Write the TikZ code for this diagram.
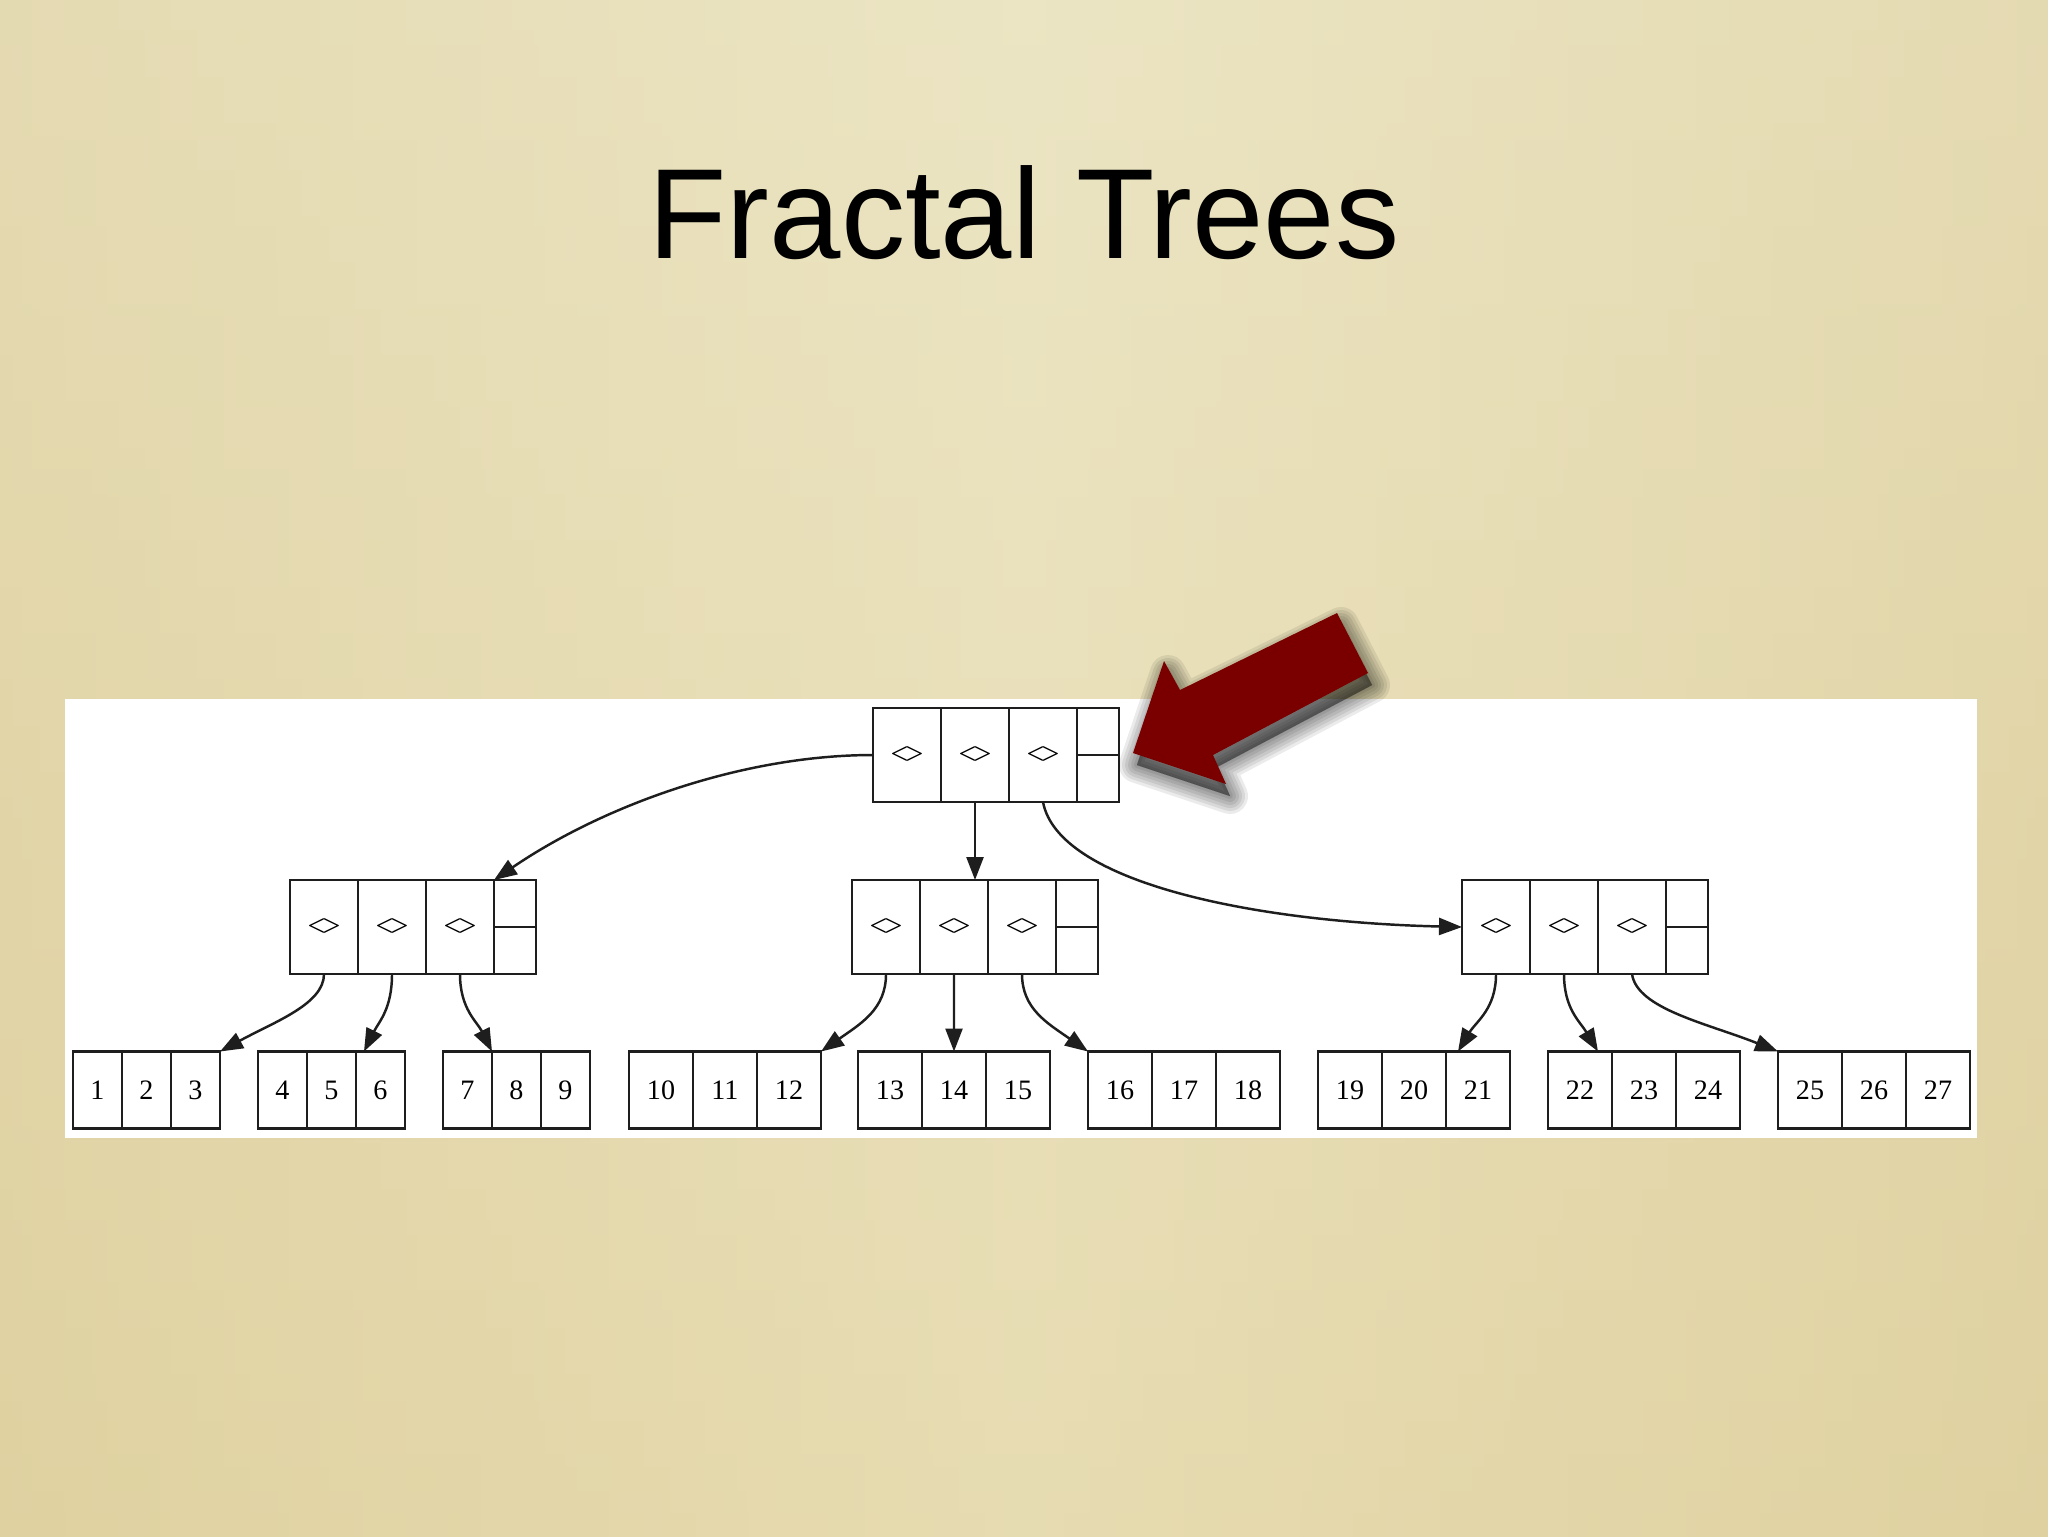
\documentclass[tikz,border=0pt]{standalone}
\usepackage{fontspec}
\setmainfont{Liberation Serif}
\newfontfamily\titlefont{Liberation Sans}
\usetikzlibrary{positioning}
\usetikzlibrary{arrows.meta}
\usepackage{xcolor}

\definecolor{paper}{RGB}{237,231,199}
\definecolor{paperdark}{RGB}{226,211,160}
\definecolor{paperedge}{RGB}{221,207,160}
\definecolor{arrowred}{RGB}{122,0,0}
\definecolor{inkgray}{RGB}{30,30,30}

\newcommand{\keymark}{<\kern-0.09em>}

\tikzset{
    keycell/.style={draw=inkgray, line width=0.7pt, outer sep=0pt, inner sep=0pt,
        minimum width=6.8mm, minimum height=9.4mm, font=\fontsize{9}{10}\selectfont},
    ptrcell/.style={keycell, minimum width=4.2mm},
    leafcell/.style={keycell, minimum width=4.9mm, minimum height=7.7mm, font=\fontsize{8}{9}\selectfont},
    wideleaf/.style={leafcell, minimum width=6.4mm},
    link/.style={draw=inkgray, line width=0.7pt, -{Triangle[length=2.3mm,width=1.7mm]}},
}

\begin{document}
\begin{tikzpicture}[x=0.1mm, y=-0.1mm]
        \useasboundingbox (0,0) rectangle (2048,1536);

        % paper background
        \shade[top color=paper!85!paperdark, middle color=paper!80!white, bottom color=paperdark] (0,0) rectangle (2048,1536);
        \shade[left color=paperedge, right color=paperedge, middle color=paper, opacity=0.45] (0,0) rectangle (2048,1536);

        \node[anchor=base, inner sep=0pt, font=\titlefont\fontsize{36.5}{40}\selectfont] (title) at (1024,258) {Fractal Trees};

        \fill[white] (65,699) rectangle (1977,1138);

        % root
        \node[keycell] (r1) at (907,755) {\keymark};
        \node[keycell, right=0pt of r1] (r2) {\keymark};
        \node[keycell, right=0pt of r2] (r3) {\keymark};
        \node[ptrcell, right=0pt of r3] (r4) {};
        \draw[inkgray, line width=0.7pt] (r4.west) -- (r4.east);

        % second level
        \node[keycell] (a1) at (324,927) {\keymark};
        \node[keycell, right=0pt of a1] (a2) {\keymark};
        \node[keycell, right=0pt of a2] (a3) {\keymark};
        \node[ptrcell, right=0pt of a3] (a4) {};
        \draw[inkgray, line width=0.7pt] (a4.west) -- (a4.east);

        \node[keycell] (b1) at (886,927) {\keymark};
        \node[keycell, right=0pt of b1] (b2) {\keymark};
        \node[keycell, right=0pt of b2] (b3) {\keymark};
        \node[ptrcell, right=0pt of b3] (b4) {};
        \draw[inkgray, line width=0.7pt] (b4.west) -- (b4.east);

        \node[keycell] (c1) at (1496,927) {\keymark};
        \node[keycell, right=0pt of c1] (c2) {\keymark};
        \node[keycell, right=0pt of c2] (c3) {\keymark};
        \node[ptrcell, right=0pt of c3] (c4) {};
        \draw[inkgray, line width=0.7pt] (c4.west) -- (c4.east);

        % leaves
        \node[leafcell] (l1) at (97.5,1090) {1};
        \node[leafcell, right=0pt of l1] (l2) {2};
        \node[leafcell, right=0pt of l2] (l3) {3};
        \node[leafcell] (l4) at (282.5,1090) {4};
        \node[leafcell, right=0pt of l4] (l5) {5};
        \node[leafcell, right=0pt of l5] (l6) {6};
        \node[leafcell] (l7) at (467.5,1090) {7};
        \node[leafcell, right=0pt of l7] (l8) {8};
        \node[leafcell, right=0pt of l8] (l9) {9};

        \node[wideleaf] (l10) at (661,1090) {10};
        \node[wideleaf, right=0pt of l10] (l11) {11};
        \node[wideleaf, right=0pt of l11] (l12) {12};
        \node[wideleaf] (l13) at (890,1090) {13};
        \node[wideleaf, right=0pt of l13] (l14) {14};
        \node[wideleaf, right=0pt of l14] (l15) {15};
        \node[wideleaf] (l16) at (1120,1090) {16};
        \node[wideleaf, right=0pt of l16] (l17) {17};
        \node[wideleaf, right=0pt of l17] (l18) {18};

        \node[wideleaf] (l19) at (1350,1090) {19};
        \node[wideleaf, right=0pt of l19] (l20) {20};
        \node[wideleaf, right=0pt of l20] (l21) {21};
        \node[wideleaf] (l22) at (1580,1090) {22};
        \node[wideleaf, right=0pt of l22] (l23) {23};
        \node[wideleaf, right=0pt of l23] (l24) {24};
        \node[wideleaf] (l25) at (1810,1090) {25};
        \node[wideleaf, right=0pt of l25] (l26) {26};
        \node[wideleaf, right=0pt of l26] (l27) {27};

        % pointers
        \draw[link] (r1.west) .. controls +(-130,0) and +(110,-75) .. (a3.north east);
        \draw[link] (r2.south) -- (r2.south |- b2.north);
        \draw[link] (r3.south) .. controls +(15,80) and +(-210,-5) .. (c1.west);

        \draw[link] (a1.south) .. controls +(0,30) and +(55,-30) .. (l3.north east);
        \draw[link] (a2.south) .. controls +(0,35) and +(15,-30) .. ([xshift=0.8mm]l6.north west);
        \draw[link] (a3.south) .. controls +(0,35) and +(-15,-30) .. (l7.north east);

        \draw[link] (b1.south) .. controls +(0,35) and +(40,-28) .. (l12.north east);
        \draw[link] (b2.south) -- (l14.north);
        \draw[link] (b3.south) .. controls +(0,35) and +(-40,-28) .. (l16.north west);

        \draw[link] (c1.south) .. controls +(0,35) and +(18,-30) .. ([xshift=1.2mm]l21.north west);
        \draw[link] (c2.south) .. controls +(0,35) and +(-18,-30) .. ([xshift=-1.4mm]l22.north east);
        \draw[link] (c3.south) .. controls +(5,35) and +(-70,-28) .. (l25.north west);

        % big red arrow with a soft shadow
        \foreach \w in {3.6,3.0,2.4,1.8,1.2,0.6,0.1}
            \filldraw[black, opacity=0.08, line width=\w mm, line join=round, shift={(4,12)}]
                (1133,753) -- (1164,661) -- (1180,690) -- (1337,613) -- (1368,673) -- (1213,755) -- (1226,784) -- cycle;
        \fill[arrowred]
            (1133,753) -- (1164,661) -- (1180,690) -- (1337,613) -- (1368,673) -- (1213,755) -- (1226,784) -- cycle;

    \end{tikzpicture}
\end{document}
